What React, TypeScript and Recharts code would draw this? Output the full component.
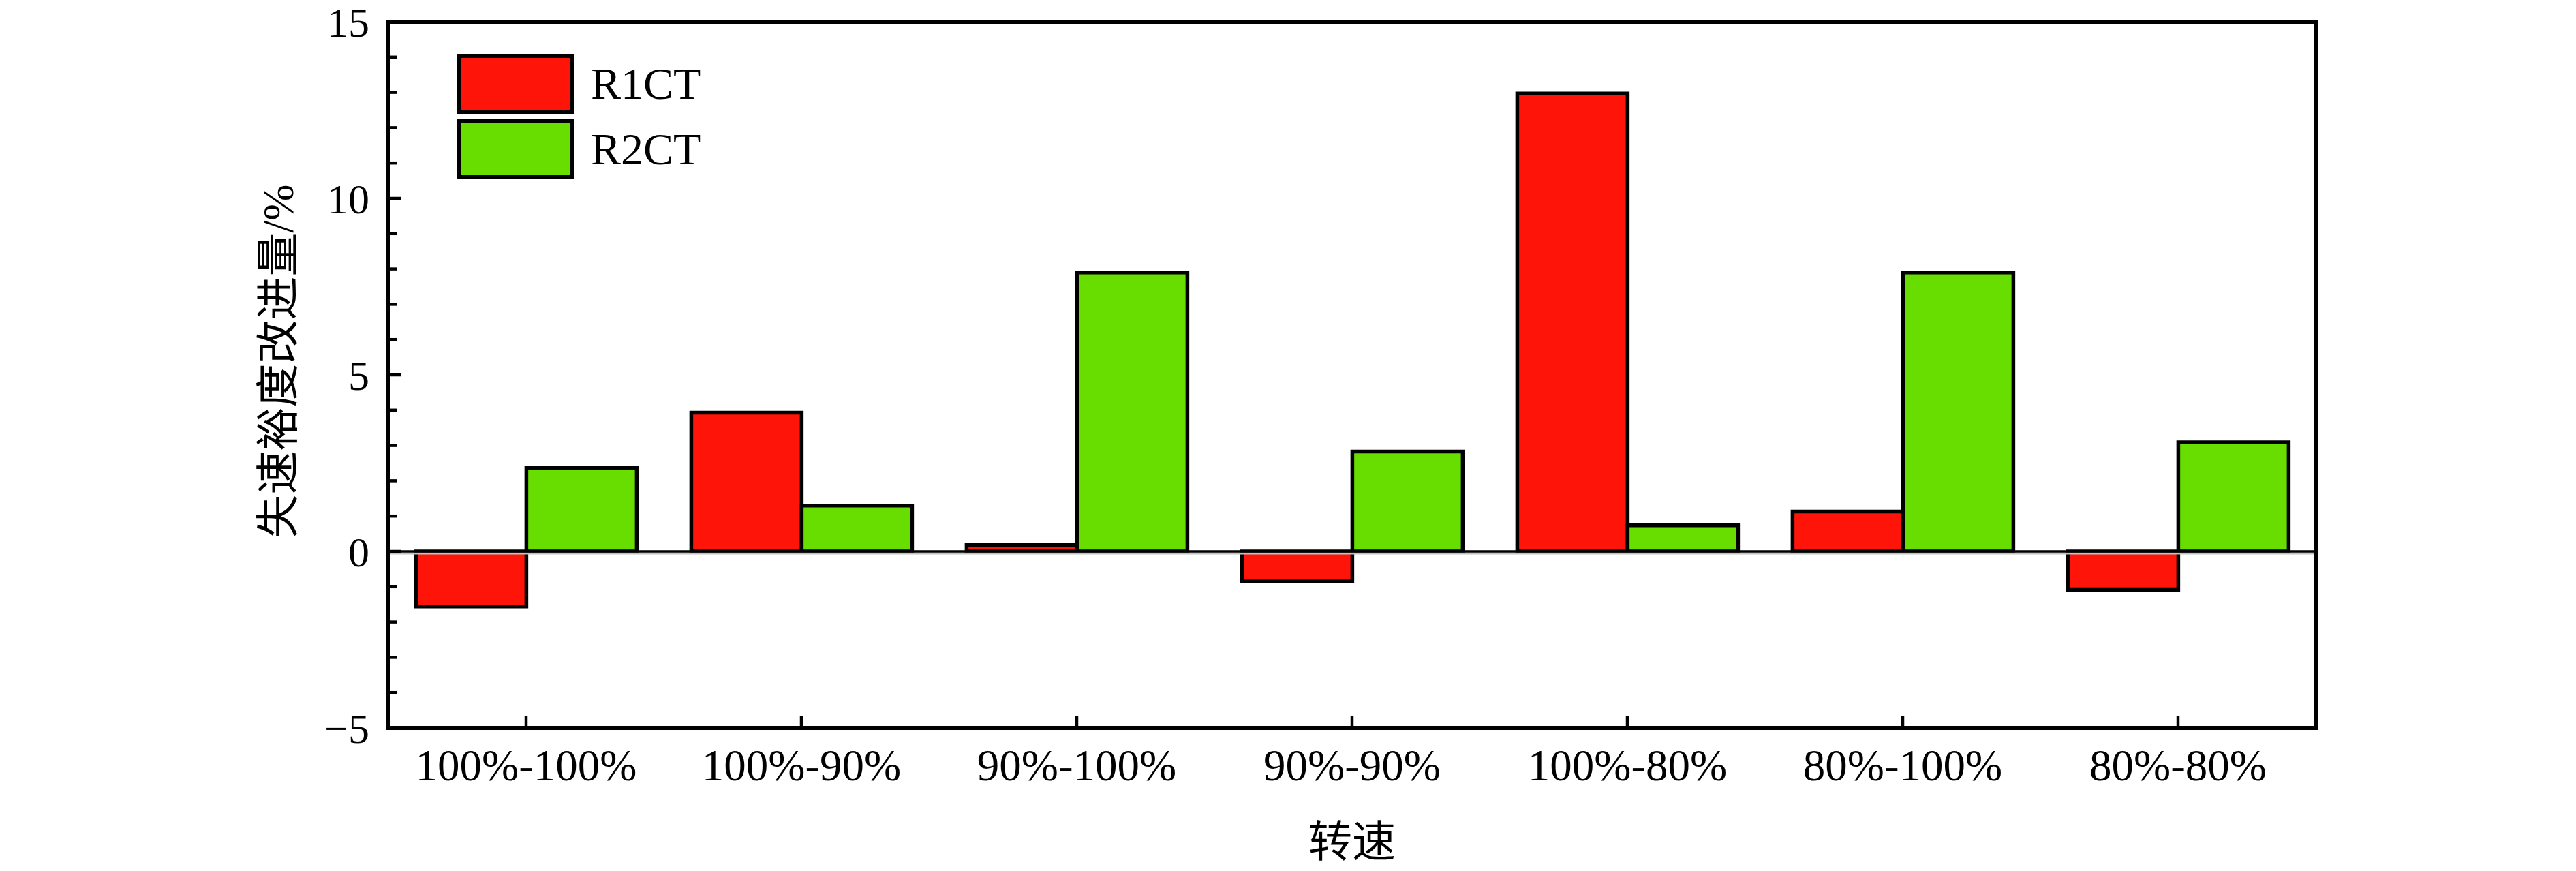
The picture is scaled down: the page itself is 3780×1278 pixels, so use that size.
import { BarChart, Bar, XAxis, YAxis, ReferenceLine } from "recharts";

// Speed combinations along the x axis.
const CATEGORIES = [
  "100%-100%", "100%-90%", "90%-100%", "90%-90%", "100%-80%", "80%-100%", "80%-80%",
];

// Stall-margin improvement, %.
const R1CT = [-1.56, 3.93, 0.19, -0.85, 12.97, 1.13, -1.09];
const R2CT = [2.36, 1.3, 7.9, 2.83, 0.74, 7.9, 3.09];

const SERIES = [
  { key: "R1CT", color: "#FF1409" },
  { key: "R2CT", color: "#68DD00" },
];

const Y_DOMAIN: [number, number] = [-5, 15];
const Y_TICKS = [-5, -4, -3, -2, -1, 0, 1, 2, 3, 4, 5, 6, 7, 8, 9, 10, 11, 12, 13, 14, 15];

const Y_TITLE = "失速裕度改进量/%";
const X_TITLE = "转速";

const FONT = '"Liberation Serif", "Noto Sans CJK SC", serif';
const AXIS_LINE = { stroke: "#000", strokeWidth: 6, strokeLinecap: "square" as const };

const data = CATEGORIES.map((name, i) => ({ name, R1CT: R1CT[i], R2CT: R2CT[i] }));

function YTick(props: any) {
  const { x, y, payload } = props;
  const v = payload.value as number;
  const major = v % 5 === 0;
  return (
    <g>
      <line x1={x} x2={x + (major ? 18 : 12)} y1={y} y2={y} stroke="#000" strokeWidth={4.5} />
      {major && (
        <text x={x - 28} y={y} dy="0.35em" textAnchor="end" fontSize={62} fontFamily={FONT} fill="#000">
          {v < 0 ? `\u2212${-v}` : String(v)}
        </text>
      )}
    </g>
  );
}

function XTick(props: any) {
  const { x, y, payload } = props;
  return (
    <g>
      <line x1={x} x2={x} y1={y} y2={y - 17} stroke="#000" strokeWidth={4.5} />
      <text x={x} y={y + 77} textAnchor="middle" fontSize={65} fontFamily={FONT} fill="#000">
        {payload.value}
      </text>
    </g>
  );
}

export default function App() {
  return (
    <div style={{ position: "absolute", left: 0, top: 0, width: 3780, height: 1278, background: "#fff" }}>
      <BarChart
        width={3780}
        height={1278}
        data={data}
        margin={{ top: 31, right: 381, bottom: 10, left: 370 }}
        barCategoryGap="10%"
        barGap={0}
      >
        <XAxis
          dataKey="name"
          interval={0}
          tickSize={0}
          tickMargin={0}
          tickLine={false}
          tick={<XTick />}
          axisLine={AXIS_LINE}
          height={200}
          label={{
            content: ({ viewBox }: any) => (
              <text
                x={viewBox.x + viewBox.width / 2}
                y={viewBox.y + 167}
                textAnchor="middle"
                dominantBaseline="central"
                fontSize={64}
                fontFamily={FONT}
                fill="#000"
              >
                {X_TITLE}
              </text>
            ),
          }}
        />
        <XAxis xAxisId="top" orientation="top" dataKey="name" tick={false} tickLine={false} axisLine={AXIS_LINE} height={1} />
        <YAxis
          domain={Y_DOMAIN}
          ticks={Y_TICKS}
          interval={0}
          tickSize={0}
          tickMargin={0}
          tickLine={false}
          tick={<YTick />}
          axisLine={AXIS_LINE}
          width={200}
          allowDataOverflow
          label={{
            content: ({ viewBox }: any) => {
              const cx = viewBox.x + 38;
              const cy = viewBox.y + viewBox.height / 2 - 20;
              return (
                <text
                  x={cx}
                  y={cy}
                  transform={`rotate(-90 ${cx} ${cy})`}
                  textAnchor="middle"
                  dominantBaseline="central"
                  fontSize={64}
                  fontFamily={FONT}
                  fill="#000"
                >
                  {Y_TITLE}
                </text>
              );
            },
          }}
        />
        <YAxis yAxisId="right" orientation="right" domain={Y_DOMAIN} tick={false} tickLine={false} axisLine={AXIS_LINE} width={1} />
        <ReferenceLine y={-0.06} stroke="#c0c4c0" strokeWidth={3} />
        {SERIES.map((s) => (
          <Bar key={s.key} dataKey={s.key} fill={s.color} stroke="#000" strokeWidth={5.5} isAnimationActive={false} />
        ))}
        <ReferenceLine y={0} stroke="#000" strokeWidth={3.5} />
      </BarChart>

      {/* legend, upper left inside the frame */}
      <div style={{ position: "absolute", left: 671, top: 79, fontFamily: FONT, fontSize: 66 }}>
        {SERIES.map((s, i) => (
          <div key={s.key} style={{ display: "flex", alignItems: "center", height: 88, marginBottom: i === 0 ? 8 : 0 }}>
            <div
              style={{
                width: 172,
                height: 88,
                boxSizing: "border-box",
                border: "6px solid #000",
                background: s.color,
              }}
            />
            <span style={{ marginLeft: 24, lineHeight: 1 }}>{s.key}</span>
          </div>
        ))}
      </div>
    </div>
  );
}
